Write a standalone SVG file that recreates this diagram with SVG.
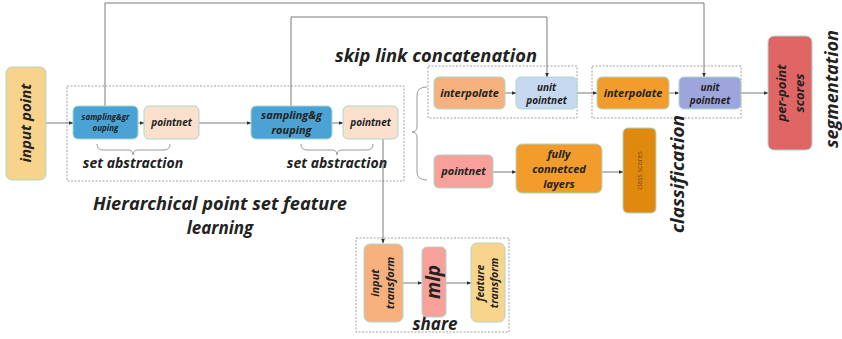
<svg xmlns="http://www.w3.org/2000/svg" width="842" height="339" viewBox="0 0 842 339">
  <defs>
    <marker id="arr" viewBox="0 0 10 10" refX="9" refY="5" markerWidth="5" markerHeight="5" orient="auto">
      <path d="M0,1 L10,5 L0,9 z" fill="#333"/>
    </marker>
  </defs>
  <style>
    text { font-family: "Open Sans", "Liberation Sans", sans-serif; font-weight: bold; font-style: italic; fill: #222; text-anchor: middle; }
    .node { stroke: #a9d9c6; stroke-width: 1; }
    .group { fill: none; stroke: #8a8a8a; stroke-width: 0.8; stroke-dasharray: 2 1.5; }
    .arrow { fill: none; stroke: #7a7a7a; stroke-width: 1; marker-end: url(#arr); }
    .brace { fill: none; stroke: #9a9a9a; stroke-width: 1; }
    .label { font-size: 10.5px; }
  </style>

  <rect width="842" height="339" fill="#ffffff"/>

  <!-- dashed groupings -->
  <g id="groups">
    <rect class="group" x="67" y="86" width="337" height="95"/>
    <rect class="group" x="428" y="66" width="149" height="52"/>
    <rect class="group" x="592" y="66" width="149" height="52"/>
    <rect class="group" x="356" y="238" width="153" height="94"/>
  </g>

  <!-- connectors -->
  <g id="connectors">
    <path class="arrow" d="M46,123 L73,123"/>
    <path class="arrow" d="M138,123 L144,123"/>
    <path class="arrow" d="M199,123 L251,123"/>
    <path class="arrow" d="M332,123 L343,123"/>
    <path class="arrow" d="M383,139 L383,243"/>
    <path class="arrow" d="M105,106 L105,3 L704,3 L704,77"/>
    <path class="arrow" d="M291,106 L291,17 L547,17 L547,77"/>
    <path class="arrow" d="M505,93 L516,93"/>
    <path class="arrow" d="M577,93 L597,93"/>
    <path class="arrow" d="M669,93 L679,93"/>
    <path class="arrow" d="M741,93 L768,93"/>
    <path class="arrow" d="M493,172 L516,172"/>
    <path class="arrow" d="M602,172 L623,172"/>
    <path class="arrow" d="M403,283 L422,283"/>
    <path class="arrow" d="M446,283 L471,283"/>
  </g>

  <!-- braces -->
  <g id="braces">
    <path class="brace" d="M97,144 Q97,150 103,150 L128,150 Q133,150 133,155 Q133,150 138,150 L164,150 Q170,150 170,144"/>
    <path class="brace" d="M301,144 Q301,150 307,150 L332,150 Q337,150 337,155 Q337,150 342,150 L367,150 Q373,150 373,144"/>
    <path class="brace" d="M427,87 Q417,87 417,95 L417,126 Q417,132 412,132 Q417,132 417,138 L417,172 Q417,180 427,180"/>
  </g>

  <g id="input-point">
    <rect class="node" x="6" y="67" width="40" height="113" rx="6" fill="#f8d38c"/>
    <text transform="translate(31,123) rotate(-90)" font-size="15">input point</text>
  </g>

  <g id="sampling-grouping-1">
    <rect class="node" x="73" y="106" width="65" height="33" rx="5" fill="#4aa3d4"/>
    <text x="105.5" y="120" font-size="8">sampling&amp;gr</text>
    <text x="105.5" y="131" font-size="8">ouping</text>
  </g>

  <g id="pointnet-1">
    <rect class="node" x="144" y="106" width="55" height="33" rx="5" fill="#fbe0ce"/>
    <text x="171.5" y="126" font-size="10">pointnet</text>
  </g>

  <g id="sampling-grouping-2">
    <rect class="node" x="251" y="106" width="81" height="33" rx="5" fill="#4aa3d4"/>
    <text x="291.5" y="119" font-size="11">sampling&amp;g</text>
    <text x="291.5" y="134.2" font-size="11">rouping</text>
  </g>

  <g id="pointnet-2">
    <rect class="node" x="343" y="106" width="55" height="33" rx="5" fill="#fbe0ce"/>
    <text x="370.5" y="126" font-size="10">pointnet</text>
  </g>

  <g id="labels">
    <text x="133" y="168" font-size="14">set abstraction</text>
    <text x="337" y="168" font-size="14">set abstraction</text>
    <text x="436" y="62" font-size="17" textLength="202" lengthAdjust="spacingAndGlyphs">skip link concatenation</text>
    <text x="220" y="210" font-size="17" textLength="254" lengthAdjust="spacingAndGlyphs">Hierarchical point set feature</text>
    <text x="220" y="234" font-size="17">learning</text>
    <text transform="translate(838,89) rotate(-90)" font-size="17" textLength="118" lengthAdjust="spacingAndGlyphs">segmentation</text>
    <text transform="translate(684,174) rotate(-90)" font-size="17" textLength="118" lengthAdjust="spacingAndGlyphs">classification</text>
    <text x="435" y="330" font-size="17">share</text>
  </g>

  <g id="interpolate-1">
    <rect class="node" x="434" y="77" width="71" height="32" rx="5" fill="#f6b17f"/>
    <text x="469.5" y="97" font-size="11">interpolate</text>
  </g>

  <g id="unit-pointnet-1">
    <rect class="node" x="516" y="77" width="61" height="32" rx="5" fill="#c6d9f0"/>
    <text x="546.5" y="90.5" font-size="10">unit</text>
    <text x="546.5" y="104.2" font-size="10">pointnet</text>
  </g>

  <g id="interpolate-2">
    <rect class="node" x="597" y="77" width="72" height="32" rx="5" fill="#f29c2b"/>
    <text x="633" y="97" font-size="11">interpolate</text>
  </g>

  <g id="unit-pointnet-2">
    <rect class="node" x="679" y="77" width="62" height="32" rx="5" fill="#9ea5dc"/>
    <text x="710" y="90.5" font-size="10">unit</text>
    <text x="710" y="104.2" font-size="10">pointnet</text>
  </g>

  <g id="per-point-scores">
    <rect class="node" x="768" y="36" width="44" height="114" rx="6" fill="#e06666"/>
    <text transform="translate(786,93) rotate(-90)" font-size="13">per-point</text>
    <text transform="translate(803.8,93) rotate(-90)" font-size="13">scores</text>
  </g>

  <g id="pointnet-cls">
    <rect class="node" x="434" y="155" width="59" height="33" rx="5" fill="#f8a19b"/>
    <text x="463.5" y="175" font-size="11">pointnet</text>
  </g>

  <g id="fully-connected">
    <rect class="node" x="516" y="144" width="86" height="49" rx="6" fill="#f29c2b"/>
    <text x="559" y="157.5" font-size="11">fully</text>
    <text x="559" y="172.6" font-size="11">connetced</text>
    <text x="559" y="187.7" font-size="11">layers</text>
  </g>

  <g id="class-scores">
    <rect class="node" x="623" y="128" width="33" height="85" rx="5" fill="#e0890f"/>
    <text transform="translate(642,170.5) rotate(-90)" font-size="7" style="font-weight:normal;font-style:normal;fill:#7a4a12">class scores</text>
  </g>

  <g id="input-transform">
    <rect class="node" x="364" y="244" width="39" height="78" rx="6" fill="#f6b17f"/>
    <text transform="translate(379,283) rotate(-90)" font-size="11">input</text>
    <text transform="translate(394.2,283) rotate(-90)" font-size="11">transform</text>
  </g>

  <g id="mlp">
    <rect class="node" x="422" y="247" width="24" height="70" rx="5" fill="#f8a19b"/>
    <text transform="translate(440,282) rotate(-90)" font-size="19">mlp</text>
  </g>

  <g id="feature-transform">
    <rect class="node" x="471" y="243" width="34" height="79" rx="6" fill="#f9d48d"/>
    <text class="label" transform="translate(484,283) rotate(-90)">feature</text>
    <text class="label" transform="translate(498.4,283) rotate(-90)">transform</text>
  </g>
</svg>
